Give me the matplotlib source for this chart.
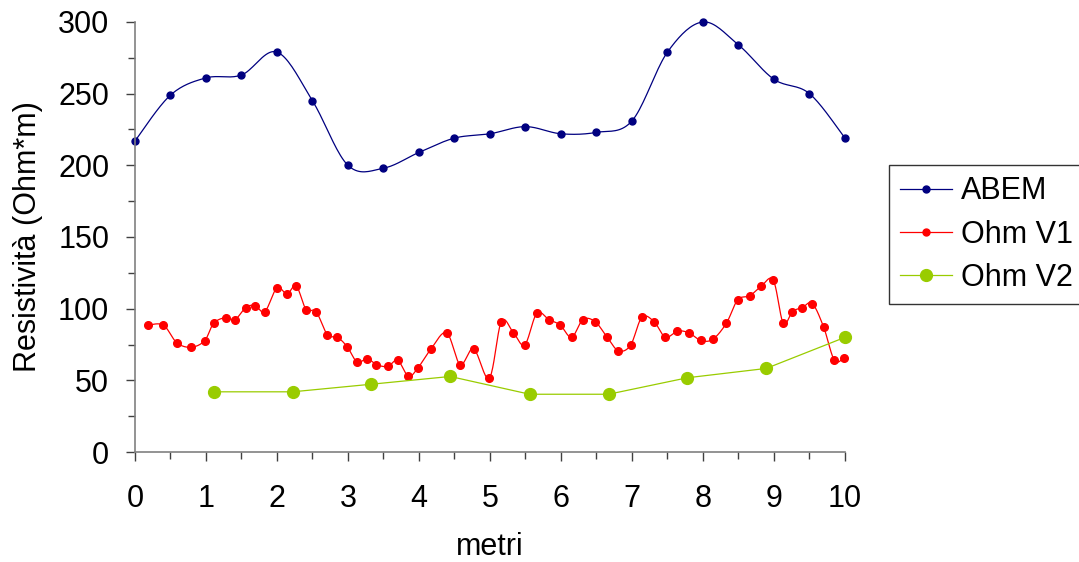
import numpy as np
import matplotlib
matplotlib.use('Agg')
import matplotlib.pyplot as plt
from matplotlib.ticker import MultipleLocator

plt.rcParams['font.family'] = ['Liberation Sans', 'DejaVu Sans']

# ABEM readings, every half metre
abemX = [0, 0.5, 1, 1.5, 2, 2.5, 3, 3.5, 4, 4.5, 5, 5.5, 6, 6.5, 7, 7.5, 8, 8.5, 9, 9.5, 10]
abemY = [217, 249, 261, 263, 279, 245, 200, 198, 209, 219, 222, 227, 222, 223, 231, 279, 300, 284, 260, 250, 219]

# Ohm V1 readings
v1X = [0.18, 0.40, 0.59, 0.79, 0.98, 1.11, 1.28, 1.41, 1.56, 1.69, 1.83, 2.00, 2.14, 2.27, 2.41, 2.55,
       2.71, 2.85, 2.99, 3.13, 3.27, 3.40, 3.56, 3.70, 3.85, 3.98, 4.17, 4.39, 4.58, 4.77, 4.99, 5.16,
       5.33, 5.49, 5.66, 5.83, 5.99, 6.15, 6.31, 6.48, 6.65, 6.81, 6.98, 7.14, 7.31, 7.47, 7.64, 7.80,
       7.97, 8.14, 8.33, 8.49, 8.66, 8.82, 8.99, 9.13, 9.26, 9.40, 9.54, 9.70, 9.85, 9.98]
v1Y = [88.5, 88.5, 76.2, 73.1, 77.6, 89.9, 93.8, 92.4, 100.8, 102.2, 98, 114.6, 110.1, 116, 99.4, 98,
       81.8, 80.1, 73.4, 62.7, 65.2, 61, 59.7, 64, 52.9, 58.3, 72, 83.2, 61, 72, 51.5, 91,
       83.2, 74.8, 96.8, 92.4, 88.5, 80.1, 92.4, 91, 80.1, 70.6, 74.5, 94, 91, 80.1, 84.3, 83.2,
       77.8, 78.7, 89.9, 106.2, 109, 115.7, 119.9, 89.9, 98, 100.8, 103.6, 87.1, 64, 65.4]

# Ohm V2 readings
v2X = [1.11, 2.22, 3.33, 4.44, 5.56, 6.67, 7.78, 8.89, 10]
v2Y = [42, 42, 47.3, 52.7, 40.3, 40.3, 51.8, 58.3, 80]


def smoothLine(xs, ys, steps=20):
  # spreadsheet-style smoothed line (Catmull-Rom through the points)
  p = np.column_stack([xs, ys]).astype(float)
  p = np.vstack([p[0], p, p[-1]])
  out = []
  t = np.linspace(0, 1, steps)[:, None]
  for i in range(1, len(p) - 2):
    p0, p1, p2, p3 = p[i - 1], p[i], p[i + 1], p[i + 2]
    b1 = p1 + (p2 - p0) / 6
    b2 = p2 - (p3 - p1) / 6
    seg = (1 - t) ** 3 * p1 + 3 * (1 - t) ** 2 * t * b1 + 3 * (1 - t) * t ** 2 * b2 + t ** 3 * p2
    out.append(seg if i == 1 else seg[1:])
  out = np.vstack(out)
  return out[:, 0], out[:, 1]


fig = plt.figure(figsize=(10.79, 5.62), dpi=100)
ax = fig.add_axes([0.1251, 0.1957, 0.6580, 0.7652])

blue = '#000080'
red = '#FF0000'
green = '#99CC00'
fs = 22

sx, sy = smoothLine(abemX, abemY)
ax.plot(sx, sy, color=blue, linewidth=0.9)
ax.plot(abemX, abemY, 'o', color=blue, markersize=5)
ax.plot([], [], 'o-', color=blue, linewidth=0.9, markersize=5, label='ABEM')

sx, sy = smoothLine(v1X, v1Y)
ax.plot(sx, sy, color=red, linewidth=0.9)
ax.plot(v1X, v1Y, 'o', color=red, markersize=5.5)
ax.plot([], [], 'o-', color=red, linewidth=0.9, markersize=5, label='Ohm V1')

ax.plot(v2X, v2Y, 'o-', color=green, linewidth=0.9, markersize=8.5, label='Ohm V2')

ax.set_xlim(0, 10)
ax.set_ylim(0, 300)
ax.xaxis.set_major_locator(MultipleLocator(1))
ax.xaxis.set_minor_locator(MultipleLocator(0.5))
ax.yaxis.set_major_locator(MultipleLocator(50))
ax.yaxis.set_minor_locator(MultipleLocator(25))

for side in ['top', 'right']:
  ax.spines[side].set_visible(False)
for side in ['left', 'bottom']:
  ax.spines[side].set_color('#808080')
  ax.spines[side].set_linewidth(1.2)

ax.tick_params(which='major', direction='out', length=6.5, width=1, color='#404040', labelsize=fs)
ax.tick_params(which='minor', direction='out', length=5, width=1, color='#404040')
ax.tick_params(axis='x', which='major', pad=16.5)
ax.tick_params(axis='y', which='major', pad=12)

ax.set_xlabel('metri', fontsize=fs, labelpad=13)
ax.set_ylabel('Resistività (Ohm*m)', fontsize=fs, labelpad=11)

leg = fig.legend(loc='upper left', bbox_to_anchor=(0.824, 0.706), fontsize=fs,
                 frameon=True, fancybox=False, edgecolor='black', handlelength=1.7,
                 borderpad=0.36, labelspacing=0.44, handletextpad=0.3, borderaxespad=0)
leg.get_frame().set_linewidth(1)

for line in ax.lines:
  line.set_clip_on(False)

plt.savefig('out.png', dpi=100)
